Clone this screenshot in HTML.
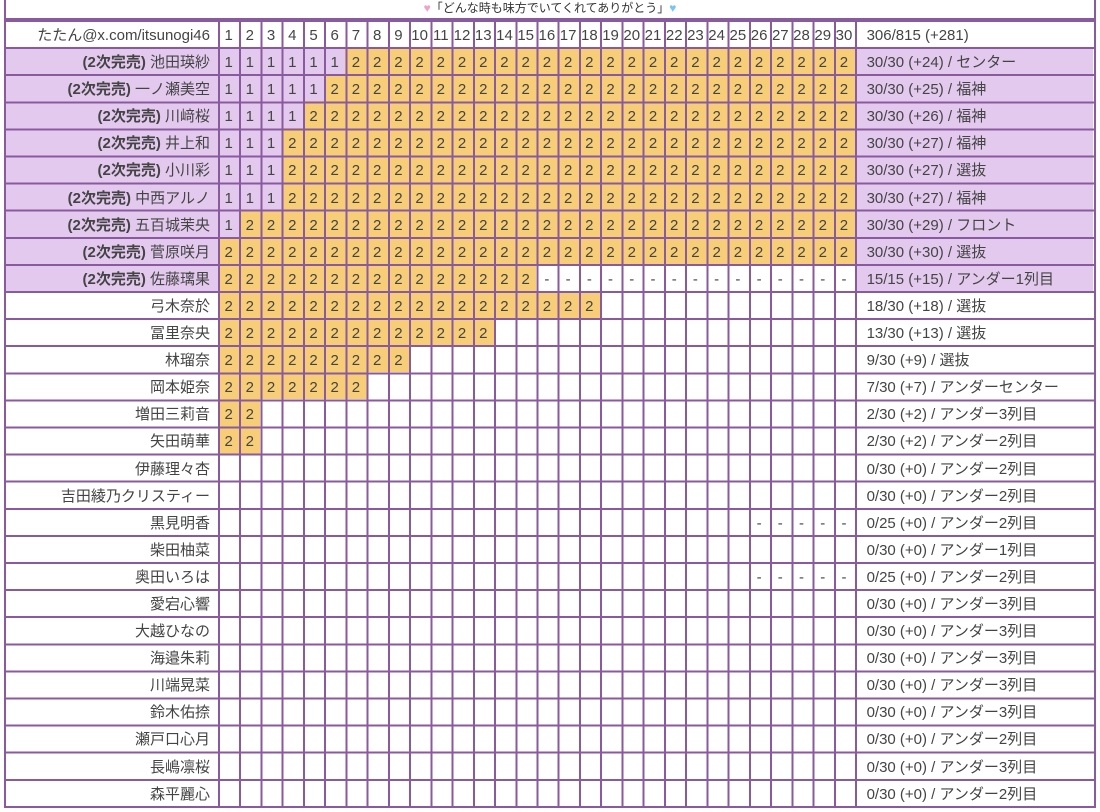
<!DOCTYPE html>
<html><head><meta charset="utf-8"><style>
body{margin:0;width:1100px;height:812px;background:#fff;overflow:hidden;position:relative;font-family:"Liberation Sans","Noto Sans CJK JP",sans-serif;color:#444;}
.title{position:absolute;left:4px;top:-2px;width:1088px;height:20px;border:2px solid #8a5a9e;border-top:none;text-align:center;font-size:12px;line-height:20px;color:#333;}
.wrap{position:absolute;left:4px;top:20px;width:1092px;}
.row{display:grid;grid-template-columns:214px repeat(30,21.2333px) 238px;height:27.1px;line-height:27px;font-size:15px;white-space:nowrap;}
.row>*{font-style:normal;text-align:center;overflow:hidden;padding-top:2px;box-sizing:border-box;height:27.1px;}
.n{text-align:right!important;padding-right:8px;grid-column:1;}
.r{text-align:left!important;padding-left:12px;grid-column:32;}
.l .n,.l .r,.a{background:#e4c9ef;}
.o{background:#f8cd78;}
.d{grid-column:27/span 5;display:grid;grid-template-columns:repeat(5,21.2333px);padding-top:0!important;}
.d2{grid-column:17/span 15;display:grid;grid-template-columns:repeat(15,21.2333px);padding-top:0!important;}
.d>span,.d2>span{padding-top:2px;}
.hl{position:absolute;left:4px;top:20px;width:1092px;height:788px;background:repeating-linear-gradient(180deg,#8a5a9e 0 2px,transparent 2px 27.1px);}
.vl{position:absolute;left:218px;top:20px;width:639px;height:788px;background:repeating-linear-gradient(90deg,#8a5a9e 0 2px,transparent 2px 21.2333px);}
.vb{position:absolute;top:20px;width:2px;height:788px;background:#8a5a9e;}
b{color:#444}
</style></head><body>
<div class="title"><span style="color:#f2a0c8">♥</span>「どんな時も味方でいてくれてありがとう」<span style="color:#7cc3ef">♥</span></div>
<div class="wrap">
<div class="row"><i class="n">たたん@x.com/itsunogi46</i><i>1</i><i>2</i><i>3</i><i>4</i><i>5</i><i>6</i><i>7</i><i>8</i><i>9</i><i>10</i><i>11</i><i>12</i><i>13</i><i>14</i><i>15</i><i>16</i><i>17</i><i>18</i><i>19</i><i>20</i><i>21</i><i>22</i><i>23</i><i>24</i><i>25</i><i>26</i><i>27</i><i>28</i><i>29</i><i>30</i><i class="r">306/815 (+281)</i></div>
<div class="row l"><i class="n"><b>(2次完売)</b> 池田瑛紗</i><i class=a>1</i><i class=a>1</i><i class=a>1</i><i class=a>1</i><i class=a>1</i><i class=a>1</i><i class=o>2</i><i class=o>2</i><i class=o>2</i><i class=o>2</i><i class=o>2</i><i class=o>2</i><i class=o>2</i><i class=o>2</i><i class=o>2</i><i class=o>2</i><i class=o>2</i><i class=o>2</i><i class=o>2</i><i class=o>2</i><i class=o>2</i><i class=o>2</i><i class=o>2</i><i class=o>2</i><i class=o>2</i><i class=o>2</i><i class=o>2</i><i class=o>2</i><i class=o>2</i><i class=o>2</i><i class="r">30/30 (+24) / センター</i></div>
<div class="row l"><i class="n"><b>(2次完売)</b> 一ノ瀬美空</i><i class=a>1</i><i class=a>1</i><i class=a>1</i><i class=a>1</i><i class=a>1</i><i class=o>2</i><i class=o>2</i><i class=o>2</i><i class=o>2</i><i class=o>2</i><i class=o>2</i><i class=o>2</i><i class=o>2</i><i class=o>2</i><i class=o>2</i><i class=o>2</i><i class=o>2</i><i class=o>2</i><i class=o>2</i><i class=o>2</i><i class=o>2</i><i class=o>2</i><i class=o>2</i><i class=o>2</i><i class=o>2</i><i class=o>2</i><i class=o>2</i><i class=o>2</i><i class=o>2</i><i class=o>2</i><i class="r">30/30 (+25) / 福神</i></div>
<div class="row l"><i class="n"><b>(2次完売)</b> 川﨑桜</i><i class=a>1</i><i class=a>1</i><i class=a>1</i><i class=a>1</i><i class=o>2</i><i class=o>2</i><i class=o>2</i><i class=o>2</i><i class=o>2</i><i class=o>2</i><i class=o>2</i><i class=o>2</i><i class=o>2</i><i class=o>2</i><i class=o>2</i><i class=o>2</i><i class=o>2</i><i class=o>2</i><i class=o>2</i><i class=o>2</i><i class=o>2</i><i class=o>2</i><i class=o>2</i><i class=o>2</i><i class=o>2</i><i class=o>2</i><i class=o>2</i><i class=o>2</i><i class=o>2</i><i class=o>2</i><i class="r">30/30 (+26) / 福神</i></div>
<div class="row l"><i class="n"><b>(2次完売)</b> 井上和</i><i class=a>1</i><i class=a>1</i><i class=a>1</i><i class=o>2</i><i class=o>2</i><i class=o>2</i><i class=o>2</i><i class=o>2</i><i class=o>2</i><i class=o>2</i><i class=o>2</i><i class=o>2</i><i class=o>2</i><i class=o>2</i><i class=o>2</i><i class=o>2</i><i class=o>2</i><i class=o>2</i><i class=o>2</i><i class=o>2</i><i class=o>2</i><i class=o>2</i><i class=o>2</i><i class=o>2</i><i class=o>2</i><i class=o>2</i><i class=o>2</i><i class=o>2</i><i class=o>2</i><i class=o>2</i><i class="r">30/30 (+27) / 福神</i></div>
<div class="row l"><i class="n"><b>(2次完売)</b> 小川彩</i><i class=a>1</i><i class=a>1</i><i class=a>1</i><i class=o>2</i><i class=o>2</i><i class=o>2</i><i class=o>2</i><i class=o>2</i><i class=o>2</i><i class=o>2</i><i class=o>2</i><i class=o>2</i><i class=o>2</i><i class=o>2</i><i class=o>2</i><i class=o>2</i><i class=o>2</i><i class=o>2</i><i class=o>2</i><i class=o>2</i><i class=o>2</i><i class=o>2</i><i class=o>2</i><i class=o>2</i><i class=o>2</i><i class=o>2</i><i class=o>2</i><i class=o>2</i><i class=o>2</i><i class=o>2</i><i class="r">30/30 (+27) / 選抜</i></div>
<div class="row l"><i class="n"><b>(2次完売)</b> 中西アルノ</i><i class=a>1</i><i class=a>1</i><i class=a>1</i><i class=o>2</i><i class=o>2</i><i class=o>2</i><i class=o>2</i><i class=o>2</i><i class=o>2</i><i class=o>2</i><i class=o>2</i><i class=o>2</i><i class=o>2</i><i class=o>2</i><i class=o>2</i><i class=o>2</i><i class=o>2</i><i class=o>2</i><i class=o>2</i><i class=o>2</i><i class=o>2</i><i class=o>2</i><i class=o>2</i><i class=o>2</i><i class=o>2</i><i class=o>2</i><i class=o>2</i><i class=o>2</i><i class=o>2</i><i class=o>2</i><i class="r">30/30 (+27) / 福神</i></div>
<div class="row l"><i class="n"><b>(2次完売)</b> 五百城茉央</i><i class=a>1</i><i class=o>2</i><i class=o>2</i><i class=o>2</i><i class=o>2</i><i class=o>2</i><i class=o>2</i><i class=o>2</i><i class=o>2</i><i class=o>2</i><i class=o>2</i><i class=o>2</i><i class=o>2</i><i class=o>2</i><i class=o>2</i><i class=o>2</i><i class=o>2</i><i class=o>2</i><i class=o>2</i><i class=o>2</i><i class=o>2</i><i class=o>2</i><i class=o>2</i><i class=o>2</i><i class=o>2</i><i class=o>2</i><i class=o>2</i><i class=o>2</i><i class=o>2</i><i class=o>2</i><i class="r">30/30 (+29) / フロント</i></div>
<div class="row l"><i class="n"><b>(2次完売)</b> 菅原咲月</i><i class=o>2</i><i class=o>2</i><i class=o>2</i><i class=o>2</i><i class=o>2</i><i class=o>2</i><i class=o>2</i><i class=o>2</i><i class=o>2</i><i class=o>2</i><i class=o>2</i><i class=o>2</i><i class=o>2</i><i class=o>2</i><i class=o>2</i><i class=o>2</i><i class=o>2</i><i class=o>2</i><i class=o>2</i><i class=o>2</i><i class=o>2</i><i class=o>2</i><i class=o>2</i><i class=o>2</i><i class=o>2</i><i class=o>2</i><i class=o>2</i><i class=o>2</i><i class=o>2</i><i class=o>2</i><i class="r">30/30 (+30) / 選抜</i></div>
<div class="row l"><i class="n"><b>(2次完売)</b> 佐藤璃果</i><i class=o>2</i><i class=o>2</i><i class=o>2</i><i class=o>2</i><i class=o>2</i><i class=o>2</i><i class=o>2</i><i class=o>2</i><i class=o>2</i><i class=o>2</i><i class=o>2</i><i class=o>2</i><i class=o>2</i><i class=o>2</i><i class=o>2</i><i class="d2"><span>-</span><span>-</span><span>-</span><span>-</span><span>-</span><span>-</span><span>-</span><span>-</span><span>-</span><span>-</span><span>-</span><span>-</span><span>-</span><span>-</span><span>-</span></i><i class="r">15/15 (+15) / アンダー1列目</i></div>
<div class="row"><i class="n">弓木奈於</i><i class=o>2</i><i class=o>2</i><i class=o>2</i><i class=o>2</i><i class=o>2</i><i class=o>2</i><i class=o>2</i><i class=o>2</i><i class=o>2</i><i class=o>2</i><i class=o>2</i><i class=o>2</i><i class=o>2</i><i class=o>2</i><i class=o>2</i><i class=o>2</i><i class=o>2</i><i class=o>2</i><i class="r">18/30 (+18) / 選抜</i></div>
<div class="row"><i class="n">冨里奈央</i><i class=o>2</i><i class=o>2</i><i class=o>2</i><i class=o>2</i><i class=o>2</i><i class=o>2</i><i class=o>2</i><i class=o>2</i><i class=o>2</i><i class=o>2</i><i class=o>2</i><i class=o>2</i><i class=o>2</i><i class="r">13/30 (+13) / 選抜</i></div>
<div class="row"><i class="n">林瑠奈</i><i class=o>2</i><i class=o>2</i><i class=o>2</i><i class=o>2</i><i class=o>2</i><i class=o>2</i><i class=o>2</i><i class=o>2</i><i class=o>2</i><i class="r">9/30 (+9) / 選抜</i></div>
<div class="row"><i class="n">岡本姫奈</i><i class=o>2</i><i class=o>2</i><i class=o>2</i><i class=o>2</i><i class=o>2</i><i class=o>2</i><i class=o>2</i><i class="r">7/30 (+7) / アンダーセンター</i></div>
<div class="row"><i class="n">増田三莉音</i><i class=o>2</i><i class=o>2</i><i class="r">2/30 (+2) / アンダー3列目</i></div>
<div class="row"><i class="n">矢田萌華</i><i class=o>2</i><i class=o>2</i><i class="r">2/30 (+2) / アンダー2列目</i></div>
<div class="row"><i class="n">伊藤理々杏</i><i class="r">0/30 (+0) / アンダー2列目</i></div>
<div class="row"><i class="n">吉田綾乃クリスティー</i><i class="r">0/30 (+0) / アンダー2列目</i></div>
<div class="row"><i class="n">黒見明香</i><i class="d"><span>-</span><span>-</span><span>-</span><span>-</span><span>-</span></i><i class="r">0/25 (+0) / アンダー2列目</i></div>
<div class="row"><i class="n">柴田柚菜</i><i class="r">0/30 (+0) / アンダー1列目</i></div>
<div class="row"><i class="n">奥田いろは</i><i class="d"><span>-</span><span>-</span><span>-</span><span>-</span><span>-</span></i><i class="r">0/25 (+0) / アンダー2列目</i></div>
<div class="row"><i class="n">愛宕心響</i><i class="r">0/30 (+0) / アンダー3列目</i></div>
<div class="row"><i class="n">大越ひなの</i><i class="r">0/30 (+0) / アンダー3列目</i></div>
<div class="row"><i class="n">海邉朱莉</i><i class="r">0/30 (+0) / アンダー3列目</i></div>
<div class="row"><i class="n">川端晃菜</i><i class="r">0/30 (+0) / アンダー3列目</i></div>
<div class="row"><i class="n">鈴木佑捺</i><i class="r">0/30 (+0) / アンダー3列目</i></div>
<div class="row"><i class="n">瀬戸口心月</i><i class="r">0/30 (+0) / アンダー2列目</i></div>
<div class="row"><i class="n">長嶋凛桜</i><i class="r">0/30 (+0) / アンダー3列目</i></div>
<div class="row"><i class="n">森平麗心</i><i class="r">0/30 (+0) / アンダー2列目</i></div>
</div>
<div class="hl"></div>
<div class="vl"></div>
<div class="vb" style="left:4px"></div>
<div class="vb" style="left:1094px"></div>
</body></html>
